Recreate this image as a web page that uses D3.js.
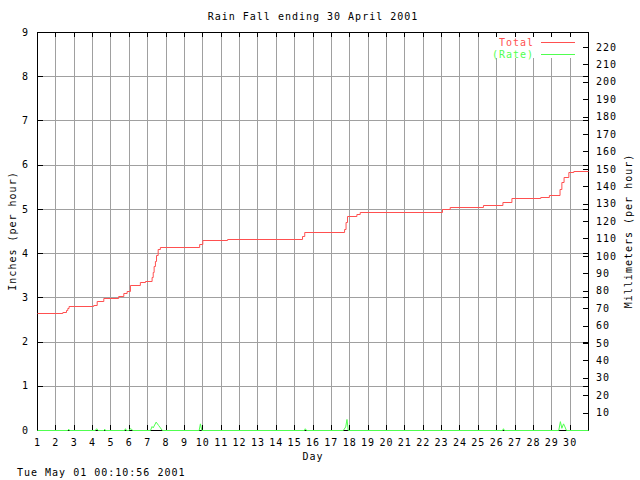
<!DOCTYPE html>
<html>
<head>
<meta charset="utf-8">
<script src="https://cdn.jsdelivr.net/npm/d3@7"></script>
<style>
  html, body { margin: 0; padding: 0; background: #fff; }
  svg { display: block; }
</style>
</head>
<body>
<script>
// ---- data ----
const title = "Rain Fall ending 30 April 2001";
const stamp = "Tue May 01 00:10:56 2001";
const dayTicks = d3.range(1, 31);               // 1..30
const inchTicks = d3.range(0, 10);              // 0..9
const mmTicks = d3.range(10, 230, 10);          // 10..220

// Total rainfall (inches), step series
const totalDays = [1, 2.38, 2.58, 2.65, 2.72, 4.06, 4.25, 4.61, 5.42, 5.70, 5.88, 6.06, 6.60, 6.88, 7.24, 7.30, 7.35, 7.42, 7.48, 7.57, 7.69, 9.83, 10.0, 11.35, 15.43, 15.55, 17.72, 17.80, 17.88, 18.39, 18.57, 23.05, 23.47, 25.28, 26.34, 26.83, 28.40, 28.87, 29.45, 29.55, 29.67, 29.93, 30.20, 31];
const totalVals = [2.64, 2.66, 2.71, 2.75, 2.80, 2.83, 2.92, 2.98, 3.02, 3.09, 3.14, 3.29, 3.34, 3.38, 3.47, 3.58, 3.70, 3.82, 3.95, 4.09, 4.14, 4.21, 4.29, 4.33, 4.39, 4.47, 4.54, 4.71, 4.84, 4.88, 4.94, 4.99, 5.04, 5.09, 5.16, 5.24, 5.26, 5.31, 5.46, 5.60, 5.73, 5.83, 5.86, 5.86];

// Rate (inches per hour)
const rateDays = [1, 2.65, 2.70, 2.75, 4.15, 4.22, 4.30, 4.62, 4.66, 4.70, 5.74, 5.79, 5.84, 5.98, 6.05, 6.12, 6.18, 7.15, 7.24, 7.30, 7.46, 7.60, 7.80, 9.80, 9.87, 9.95, 15.53, 15.58, 15.65, 17.65, 17.78, 17.85, 17.92, 26.32, 26.37, 26.42, 29.38, 29.47, 29.55, 29.64, 29.72, 29.80, 31];
const rateVals = [0, 0, 0.03, 0, 0, 0.04, 0, 0, 0.03, 0, 0, 0.04, 0, 0, 0.04, 0.03, 0, 0, 0.09, 0.06, 0.19, 0.11, 0, 0, 0.15, 0, 0, 0.04, 0, 0, 0.08, 0.25, 0, 0, 0.04, 0, 0, 0.20, 0.05, 0.15, 0.08, 0, 0];

// ---- layout ----
const W = 640, H = 480;
const L = 37, R = 588, T = 32, B = 430;
const FONT = "DejaVu Sans Mono, monospace";
const FS = 10;
const LS = 1;
const RED = "#ff5050", GREEN = "#50ff50", GRID = "#a0a0a0";

const svg = d3.select("body").append("svg").attr("width", W).attr("height", H)
  .attr("font-family", FONT).attr("font-size", FS).attr("letter-spacing", LS);

const x = d3.scaleLinear().domain([1, 31]).range([L, R]);
const y = d3.scaleLinear().domain([0, 9]).range([B, T]);
const y2 = d3.scaleLinear().domain([0, 9 * 25.4]).range([B, T]);

function style(g, showText) {
  g.select(".domain").remove();
  g.selectAll(".tick line").attr("stroke", "#000").attr("shape-rendering", "crispEdges");
  g.attr("font-family", FONT).attr("font-size", FS).attr("letter-spacing", LS);
  g.selectAll(".tick text").attr("fill", "#000");
  if (!showText) g.selectAll(".tick text").remove();
}

// grid
const gx = svg.append("g").attr("transform", `translate(0,${B})`)
  .call(d3.axisBottom(x).tickValues(dayTicks.slice(1)).tickSize(-(B - T)).tickFormat(""));
gx.select(".domain").remove();
gx.selectAll(".tick line").attr("stroke", GRID).attr("shape-rendering", "crispEdges");
const gy = svg.append("g").attr("transform", `translate(${L},0)`)
  .call(d3.axisLeft(y).tickValues(inchTicks.slice(1, 9)).tickSize(-(R - L)).tickFormat(""));
gy.select(".domain").remove();
gy.selectAll(".tick line").attr("stroke", GRID).attr("shape-rendering", "crispEdges");

// key background (masks grid)
svg.append("rect").attr("x", 489).attr("y", 37).attr("width", 94).attr("height", 21)
  .attr("fill", "#fff");

// border
svg.append("rect").attr("x", L + 0.5).attr("y", T + 0.5).attr("width", R - L).attr("height", B - T)
  .attr("fill", "none").attr("stroke", "#000").attr("shape-rendering", "crispEdges");

// axes
svg.append("g").attr("transform", `translate(${L},0)`)
  .call(d3.axisLeft(y).tickValues(inchTicks).tickSize(-6).tickPadding(8).tickFormat(d3.format("d")))
  .call(g => style(g, true));
svg.append("g").attr("transform", `translate(${R},0)`)
  .call(d3.axisRight(y).tickValues(inchTicks).tickSize(-5).tickFormat(""))
  .call(g => style(g, false));
svg.append("g").attr("transform", `translate(${R},0)`)
  .call(d3.axisRight(y2).tickValues(mmTicks).tickSize(-5).tickPadding(8).tickFormat(d3.format("d")))
  .call(g => style(g, true));
svg.append("g").attr("transform", `translate(0,${B})`)
  .call(d3.axisBottom(x).tickValues(dayTicks).tickSize(-5).tickPadding(9).tickFormat(d3.format("d")))
  .call(g => style(g, true));
svg.append("g").attr("transform", `translate(0,${T})`)
  .call(d3.axisTop(x).tickValues(dayTicks).tickSize(-5).tickFormat(""))
  .call(g => style(g, false));

// series
const totalData = totalDays.map((d, i) => [d, totalVals[i]]);
const rateData = rateDays.map((d, i) => [d, rateVals[i]]);

svg.append("path").datum(totalData)
  .attr("fill", "none").attr("stroke", RED).attr("stroke-width", 1)
  .attr("transform", "translate(0.5,0.5)")
  .attr("d", d3.line().x(d => x(d[0])).y(d => Math.round(y(d[1]))).curve(d3.curveStepAfter));

svg.append("path").datum(rateData)
  .attr("fill", "none").attr("stroke", GREEN).attr("stroke-width", 1)
  .attr("transform", "translate(0.5,0.5)")
  .attr("d", d3.line().x(d => x(d[0])).y(d => y(d[1])));

// key
const key = [["Total", RED, 42], ["(Rate)", GREEN, 54]];
key.forEach(([t, c, yy]) => {
  svg.append("text").attr("x", 534).attr("y", yy).attr("dy", "0.35em")
    .attr("text-anchor", "end").attr("fill", c).text(t);
  svg.append("line").attr("x1", 541).attr("x2", 575).attr("y1", yy + 0.5).attr("y2", yy + 0.5)
    .attr("stroke", c).attr("shape-rendering", "crispEdges");
});

// titles
svg.append("text").attr("x", 313).attr("y", 20).attr("text-anchor", "middle").text(title);
svg.append("text").attr("x", 313).attr("y", 460).attr("text-anchor", "middle").text("Day");
svg.append("text").attr("x", 17).attr("y", 476).text(stamp);
svg.append("text").attr("transform", `translate(16,${(T + B) / 2}) rotate(-90)`)
  .attr("text-anchor", "middle").text("Inches (per hour)");
svg.append("text").attr("transform", `translate(632,${(T + B) / 2}) rotate(-90)`)
  .attr("text-anchor", "middle").text("Millimeters (per hour)");
</script>
</body>
</html>
